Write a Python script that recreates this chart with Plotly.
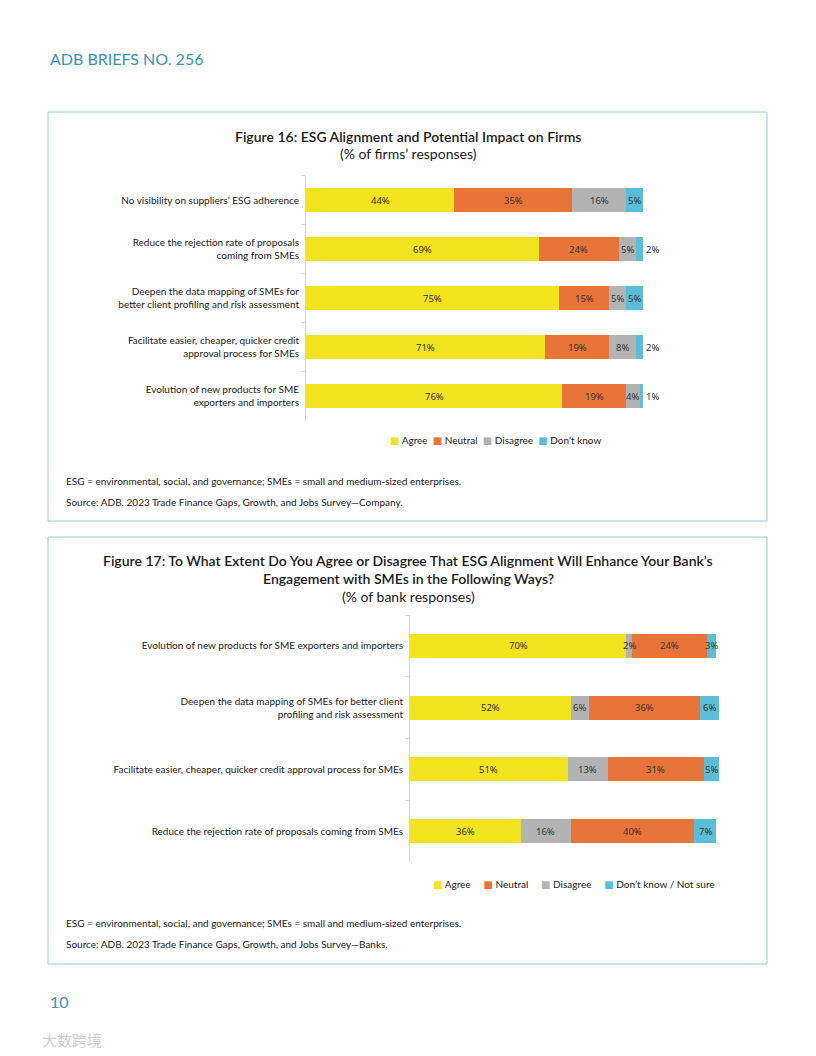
import plotly.graph_objects as go

W, H = 816, 1056


def px(x):
    return x / W


def py(y):
    return 1 - y / H


# ---------------- Data ----------------
f16_cats = [
    "No visibility on suppliers’ ESG adherence",
    "Reduce the rejection rate of proposals<br>coming from SMEs",
    "Deepen the data mapping of SMEs for<br>better client profiling and risk assessment",
    "Facilitate easier, cheaper, quicker credit<br>approval process for SMEs",
    "Evolution of new products for SME<br>exporters and importers",
]
f16_agree = [44, 69, 75, 71, 76]
f16_neutral = [35, 24, 15, 19, 19]
f16_disagree = [16, 5, 5, 8, 4]
f16_dontknow = [5, 2, 5, 2, 1]

f17_cats = [
    "Evolution of new products for SME exporters and importers",
    "Deepen the data mapping of SMEs for better client<br>profiling and risk assessment",
    "Facilitate easier, cheaper, quicker credit approval process for SMEs",
    "Reduce the rejection rate of proposals coming from SMEs",
]
f17_agree = [70, 52, 51, 36]
f17_disagree = [2, 6, 13, 16]
f17_neutral = [24, 36, 31, 40]
f17_dontknow = [3, 6, 5, 7]

C_AGREE = "#F1E41F"
C_NEUTRAL = "#E8743A"
C_DISAGREE = "#B3B3B3"
C_DK = "#5DBDD6"
TEAL = "#3B93AD"
BOX = "#93C9D8"
FONT = "Lato"
LBL_FONT = "Noto Sans"
TXT = "#1a1a1a"

fig = go.Figure()

f16_series = [
    ("Agree", f16_agree, C_AGREE, 1),
    ("Neutral", f16_neutral, C_NEUTRAL, 2),
    ("Disagree", f16_disagree, C_DISAGREE, 3),
    ("Don’t know", f16_dontknow, C_DK, 4),
]
f17_series = [
    ("Agree", f17_agree, C_AGREE, 1),
    ("Disagree", f17_disagree, C_DISAGREE, 3),
    ("Neutral", f17_neutral, C_NEUTRAL, 2),
    ("Don’t know / Not sure", f17_dontknow, C_DK, 4),
]

for name, vals, col, rank in f16_series:
    fig.add_trace(go.Bar(
        y=f16_cats, x=vals, name=name, orientation="h",
        marker=dict(color=col, line=dict(width=0)), width=0.49,
        xaxis="x", yaxis="y", showlegend=False,
        hoverinfo="x+name",
    ))

for name, vals, col, rank in f17_series:
    fig.add_trace(go.Bar(
        y=f17_cats, x=vals, name=name, orientation="h",
        marker=dict(color=col, line=dict(width=0)), width=0.39,
        xaxis="x2", yaxis="y2", showlegend=False,
        hoverinfo="x+name",
    ))

annotations = []


def add_labels(cats, series, xref, yref, outside_last_below=None):
    cum = [0] * len(cats)
    n = len(series)
    for si, (name, vals, col, rank) in enumerate(series):
        for i, v in enumerate(vals):
            mid = cum[i] + v / 2
            if outside_last_below is not None and si == n - 1 and v < outside_last_below:
                annotations.append(dict(
                    x=cum[i] + v, y=cats[i], xref=xref, yref=yref,
                    text=f"{v}%", showarrow=False, xanchor="left", xshift=1,
                    font=dict(family=LBL_FONT, size=9.5, color="#333333"),
                ))
            else:
                annotations.append(dict(
                    x=mid, y=cats[i], xref=xref, yref=yref,
                    text=f"{v}%", showarrow=False, xanchor="center",
                    font=dict(family=LBL_FONT, size=9.5, color="#333333"),
                ))
            cum[i] += v


add_labels(f16_cats, f16_series, "x", "y", outside_last_below=3)
add_labels(f17_cats, f17_series, "x2", "y2")


def txt(x, y, text, size, color=TXT, xanchor="center", family=FONT, weight=None):
    f = dict(family=family, size=size, color=color)
    if weight:
        f["weight"] = weight
    annotations.append(dict(
        x=px(x), y=py(y), xref="paper", yref="paper", text=text,
        showarrow=False, xanchor=xanchor, yanchor="middle", font=f,
    ))


def legend_text(series, gap):
    order = sorted(series, key=lambda s: s[3])
    parts = []
    for name, vals, col, rank in order:
        parts.append(f"<span style='color:{col};font-family:DejaVu Sans'>■</span>&nbsp;{name}")
    return ("&nbsp;" * gap).join(parts)


txt(48, 58, "ADB BRIEFS NO. 256", 16, color=TEAL, xanchor="left")
txt(408, 136, "Figure 16: ESG Alignment and Potential Impact on Firms", 14, weight=600)
txt(408, 153, "(% of firms’ responses)", 14)
txt(496, 440, legend_text(f16_series, 2), 10)
txt(64, 481, "ESG = environmental, social, and governance; SMEs = small and medium-sized enterprises.", 10, xanchor="left")
txt(64, 502, "Source: ADB. 2023 Trade Finance Gaps, Growth, and Jobs Survey—Company.", 10, xanchor="left")

txt(408, 560, "Figure 17: To What Extent Do You Agree or Disagree That ESG Alignment Will Enhance Your Bank’s", 14, weight=600)
txt(408, 578, "Engagement with SMEs in the Following Ways?", 14, weight=600)
txt(408, 596, "(% of bank responses)", 14)
txt(574, 884, legend_text(f17_series, 5), 10)
txt(64, 923, "ESG = environmental, social, and governance; SMEs = small and medium-sized enterprises.", 10, xanchor="left")
txt(64, 944, "Source: ADB. 2023 Trade Finance Gaps, Growth, and Jobs Survey—Banks.", 10, xanchor="left")

txt(48, 1001, "10", 16, color=TEAL, xanchor="left")
txt(40, 1039, "大数跨境", 15, color="#D0D0D0", xanchor="left", family="Noto Sans CJK SC")

shapes = [
    dict(type="rect", xref="paper", yref="paper", x0=px(48), x1=px(767), y0=py(112), y1=py(521),
         line=dict(color=BOX, width=1), fillcolor="rgba(0,0,0,0)", layer="below"),
    dict(type="rect", xref="paper", yref="paper", x0=px(48), x1=px(767), y0=py(537), y1=py(964),
         line=dict(color=BOX, width=1), fillcolor="rgba(0,0,0,0)", layer="below"),
]

yax_common = dict(
    type="category", categoryorder="array", autorange="reversed",
    showline=True, linecolor="#D6D6D6", linewidth=1,
    ticks="outside", tickson="boundaries", ticklen=4, tickcolor="#D6D6D6",
    ticklabelstandoff=4,
    tickfont=dict(family=FONT, size=10, color=TXT),
    showgrid=False, zeroline=False,
)

fig.update_layout(
    width=W, height=H, margin=dict(l=0, r=0, t=0, b=0),
    paper_bgcolor="white", plot_bgcolor="white",
    barmode="stack",
    font=dict(family=FONT, size=10, color=TXT),
    showlegend=False,
    xaxis=dict(domain=[px(306), px(643)], range=[0, 100], visible=False, anchor="y",
               showgrid=False, zeroline=False),
    yaxis=dict(domain=[py(420.5), py(175.5)], anchor="x", categoryarray=f16_cats, **yax_common),
    xaxis2=dict(domain=[px(410), px(719)], range=[0, 100], visible=False, anchor="y2",
                showgrid=False, zeroline=False),
    yaxis2=dict(domain=[py(862), py(615)], anchor="x2", categoryarray=f17_cats, **yax_common),
    annotations=annotations,
    shapes=shapes,
)

fig.write_html(
    "out.html",
    config={"displayModeBar": False},
    post_script="document.body.style.margin='0';document.body.style.padding='0';",
)
